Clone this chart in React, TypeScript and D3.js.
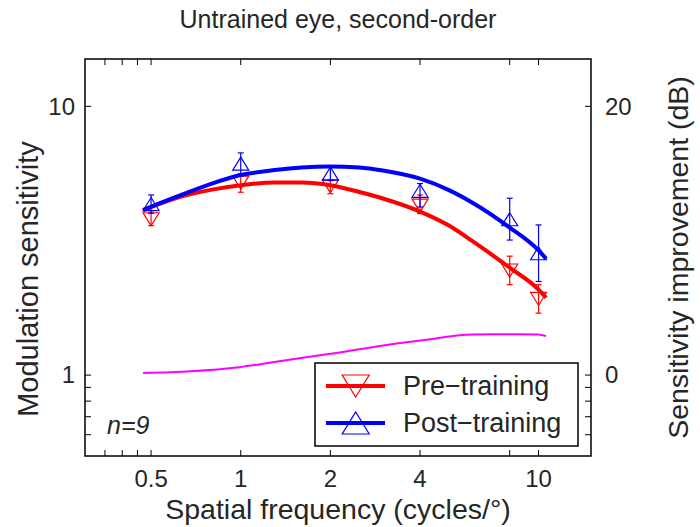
import React from "react";
import * as d3 from "d3";

// ---- data ----
const FREQS = [0.5, 1, 2, 4, 8, 10];
const PRE = [3.8, 5.2, 5.04, 4.27, 2.45, 1.92];
const PRE_LO = [3.6, 4.79, 4.73, 3.99, 2.17, 1.7];
const PRE_HI = [4.09, 5.62, 5.34, 4.68, 2.77, 2.17];
const POST = [4.33, 6.12, 5.62, 4.85, 3.8, 2.84];
const POST_LO = [4.0, 5.52, 5.29, 4.22, 3.18, 2.23];
const POST_HI = [4.68, 6.71, 5.97, 5.16, 4.55, 3.62];

const FIT_F = [0.47, 0.6, 0.8, 1, 1.3, 1.6, 2, 2.5, 3, 4, 5, 6, 8, 10, 10.6];
const FIT_PRE = [4.11, 4.54, 4.9, 5.09, 5.21, 5.21, 5.09, 4.8, 4.54, 4.06, 3.6, 3.15, 2.51, 2.08, 1.94];
const FIT_POST = [4.11, 4.58, 5.16, 5.55, 5.79, 5.92, 5.97, 5.92, 5.77, 5.38, 4.88, 4.38, 3.54, 2.91, 2.71];

const GAIN_F = [0.47, 0.68, 0.99, 1.4, 2, 2.9, 4, 6, 8, 10, 10.6];
const GAIN_DB = [0.16, 0.29, 0.59, 1.09, 1.58, 2.15, 2.57, 3.02, 3.04, 3.02, 2.9];

const X_TICKS = [0.5, 1, 2, 4, 10];
const X_TICK_LABELS = ["0.5", "1", "2", "4", "10"];
const X_MINOR = [0.35, 0.4, 0.45, 8];
const Y_TICKS = [1, 10];
const Y_TICK_LABELS = ["1", "10"];
const Y_MINOR = [0.6, 0.7, 0.8, 0.9];
const DB_TICKS = [0, 20];
const DB_TICK_LABELS = ["0", "20"];

const TITLE = "Untrained eye, second-order";
const X_LABEL = "Spatial frequency (cycles/°)";
const Y_LABEL = "Modulation sensitivity";
const Y2_LABEL = "Sensitivity improvement (dB)";
const SERIES_NAMES = ["Pre\u2212training", "Post\u2212training"];

const FONT = "'Liberation Sans', Arial, Helvetica, sans-serif";
const TXT = "#262626";

const L = 85, R = 591, T = 59, B = 456;

export default function App() {
  const x = d3.scaleLog().domain([0.3, 15]).range([L, R]);
  const y = d3.scaleLog().domain([0.5, 15]).range([B, T]);
  const yDb = d3
    .scaleLinear()
    .domain([20 * Math.log10(0.5), 20 * Math.log10(15)])
    .range([B, T]);

  const line = d3
    .line<[number, number]>()
    .x((d) => x(d[0]))
    .y((d) => y(d[1]))
    .curve(d3.curveMonotoneX);
  const dbLine = d3
    .line<[number, number]>()
    .x((d) => x(d[0]))
    .y((d) => yDb(d[1]))
    .curve(d3.curveMonotoneX);

  const preFit = line(FIT_F.map((f, i) => [f, FIT_PRE[i]]) as [number, number][]) || "";
  const postFit = line(FIT_F.map((f, i) => [f, FIT_POST[i]]) as [number, number][]) || "";
  const gain = dbLine(GAIN_F.map((f, i) => [f, GAIN_DB[i]]) as [number, number][]) || "";

  const tri = (cx: number, cy: number, up: boolean, w: number, h: number) =>
    up
      ? `M${cx},${cy - h / 2}L${cx + w / 2},${cy + h / 2}L${cx - w / 2},${cy + h / 2}Z`
      : `M${cx},${cy + h / 2}L${cx + w / 2},${cy - h / 2}L${cx - w / 2},${cy - h / 2}Z`;

  const errBars = (vals: number[], lo: number[], hi: number[], color: string, up: boolean) =>
    FREQS.map((f, i) => {
      const cx = x(f);
      const y1 = y(hi[i]);
      const y2 = y(lo[i]);
      return (
        <g key={i} stroke={color} fill="none" strokeWidth={1.2}>
          <line x1={cx} x2={cx} y1={y1} y2={y2} />
          <line x1={cx - 3} x2={cx + 3} y1={y1} y2={y1} />
          <line x1={cx - 3} x2={cx + 3} y1={y2} y2={y2} />
          <path d={tri(cx, y(vals[i]), up, 16, 13)} />
        </g>
      );
    });

  const tickLen = 6;

  return (
    <svg
      width={700}
      height={527}
      style={{ position: "absolute", left: 0, top: 0, background: "#fff" }}
      fontFamily={FONT}
    >
      <rect x={0} y={0} width={700} height={527} fill="#fff" />
      {/* title */}
      <text x={(L + R) / 2} y={28} textAnchor="middle" fontSize={25} fill={TXT}>
        {TITLE}
      </text>

      {/* data */}
      {errBars(PRE, PRE_LO, PRE_HI, "#ff0000", false)}
      {errBars(POST, POST_LO, POST_HI, "#0000ff", true)}
      <path d={preFit} fill="none" stroke="#ff0000" strokeWidth={4} />
      <path d={postFit} fill="none" stroke="#0000ff" strokeWidth={4} />
      <path d={gain} fill="none" stroke="#ff00ff" strokeWidth={2} />

      {/* axes box */}
      <rect x={L} y={T} width={R - L} height={B - T} fill="none" stroke="#000" strokeWidth={1.5} />

      {/* x ticks */}
      {[...X_TICKS, ...X_MINOR].map((t, i) => (
        <g key={"xt" + i} stroke="#000" strokeWidth={1}>
          <line x1={x(t)} x2={x(t)} y1={B} y2={B - tickLen} />
          <line x1={x(t)} x2={x(t)} y1={T} y2={T + tickLen} />
        </g>
      ))}
      {X_TICKS.map((t, i) => (
        <text key={"xl" + i} x={x(t)} y={487} textAnchor="middle" fontSize={24} fill={TXT}>
          {X_TICK_LABELS[i]}
        </text>
      ))}

      {/* y ticks */}
      {[...Y_TICKS, ...Y_MINOR].map((t, i) => (
        <g key={"yt" + i} stroke="#000" strokeWidth={1}>
          <line x1={L} x2={L + tickLen} y1={y(t)} y2={y(t)} />
          <line x1={R} x2={R - tickLen} y1={y(t)} y2={y(t)} />
        </g>
      ))}
      {Y_TICKS.map((t, i) => (
        <text key={"yl" + i} x={75} y={y(t)} dy="0.35em" textAnchor="end" fontSize={24} fill={TXT}>
          {Y_TICK_LABELS[i]}
        </text>
      ))}
      {DB_TICKS.map((t, i) => (
        <text key={"dl" + i} x={605} y={yDb(t)} dy="0.35em" textAnchor="start" fontSize={24} fill={TXT}>
          {DB_TICK_LABELS[i]}
        </text>
      ))}

      {/* axis labels */}
      <text x={(L + R) / 2} y={519} textAnchor="middle" fontSize={28.5} fill={TXT}>
        {X_LABEL}
      </text>
      <text
        transform={`translate(38,279) rotate(-90)`}
        textAnchor="middle"
        fontSize={29}
        fill={TXT}
      >
        {Y_LABEL}
      </text>
      <text
        transform={`translate(688,${(T + B) / 2}) rotate(-90)`}
        textAnchor="middle"
        fontSize={28.5}
        fill={TXT}
      >
        {Y2_LABEL}
      </text>

      {/* n=9 */}
      <text x={107} y={434} fontSize={25} fontStyle="italic" fill={TXT}>
        n=9
      </text>

      {/* legend */}
      <rect x={315} y={363} width={263} height={83} fill="#fff" stroke="#000" strokeWidth={1.5} />
      {SERIES_NAMES.map((name, i) => {
        const ly = i === 0 ? 386 : 423;
        const color = i === 0 ? "#ff0000" : "#0000ff";
        return (
          <g key={"lg" + i}>
            <line x1={326} x2={385} y1={ly} y2={ly} stroke={color} strokeWidth={4} />
            <path d={tri(355.7, ly, i === 1, 27, 22)} fill="none" stroke={color} strokeWidth={1.2} />
            <text x={403} y={ly} dy="0.35em" fontSize={27} fill={TXT}>
              {name}
            </text>
          </g>
        );
      })}
    </svg>
  );
}
